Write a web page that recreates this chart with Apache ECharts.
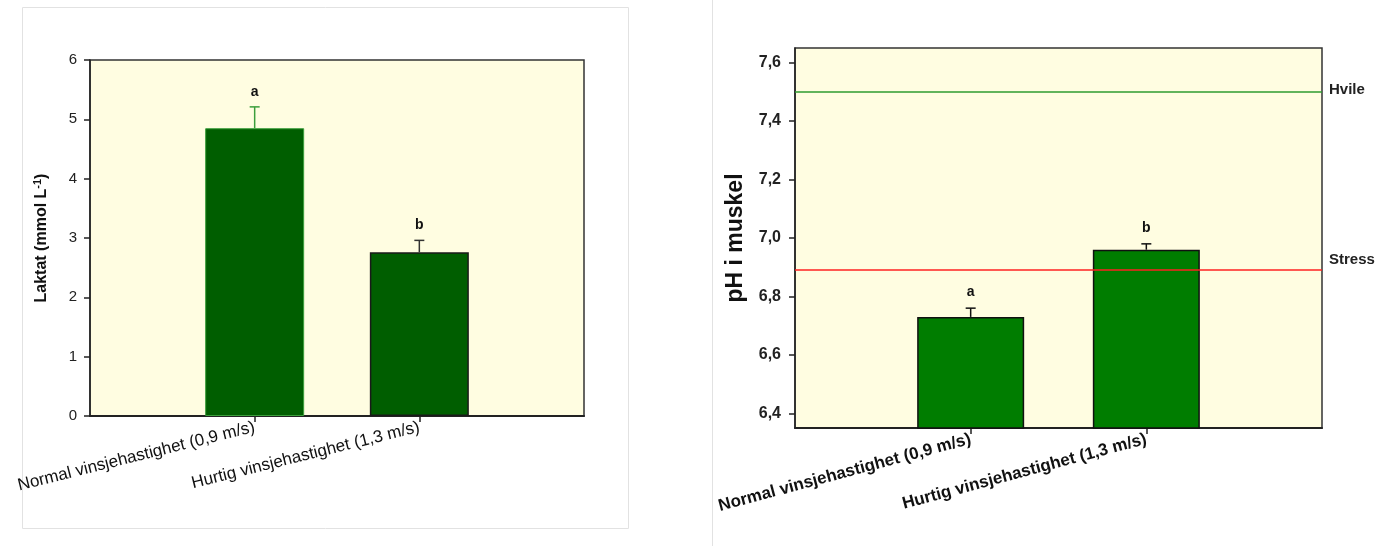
<!DOCTYPE html>
<html><head><meta charset="utf-8">
<script src="https://cdn.jsdelivr.net/npm/echarts@6/dist/echarts.min.js"></script>
<style>html,body{margin:0;padding:0;background:#fff}#c{width:1394px;height:546px}</style>
</head><body><div id="c"></div>
<script>
// ---- data ----
const categories = ['Normal vinsjehastighet (0,9 m/s)', 'Hurtig vinsjehastighet (1,3 m/s)'];
const laktatMean = [4.85, 2.76];
const laktatUpper = [5.21, 2.96];
const laktatLetters = ['a', 'b'];
const laktatTicks = [0, 1, 2, 3, 4, 5, 6];
const phMean = [6.73, 6.96];
const phUpper = [6.76, 6.98];
const phLetters = ['a', 'b'];
const phTicks = [6.4, 6.6, 6.8, 7.0, 7.2, 7.4, 7.6];
const refNames = ['Hvile', 'Stress'];
const refValues = [7.50, 6.89];

// ---- styles ----
const FONT = '"Liberation Sans", Arial, sans-serif';
const laktatBarStyles = [
  {color: '#005E00', borderColor: '#3C9E3C', borderWidth: 1},
  {color: '#005E00', borderColor: '#1a1a1a', borderWidth: 1.5}
];
const laktatErrColors = ['#3C9E3C', '#333'];
const phBarStyle = {color: '#007D00', borderColor: '#111', borderWidth: 1.5};
const phErrColors = ['#111', '#111'];
const refColors = ['#2E9B2E', '#FF2020'];

const padded = [''].concat(categories, ['']);
const notEmpty = (i, v) => v !== '';

function errRender(letters, colors, gap) {
  return function (params, api) {
    const i = params.dataIndex;
    const top = api.coord([api.value(0), api.value(1)]);
    const base = api.coord([api.value(0), api.value(2)]);
    const c = colors[i];
    const hw = 5;
    return {type: 'group', children: [
      {type: 'line', shape: {x1: top[0], y1: top[1], x2: base[0], y2: base[1]}, style: {stroke: c, lineWidth: 1.5}},
      {type: 'line', shape: {x1: top[0] - hw, y1: top[1], x2: top[0] + hw, y2: top[1]}, style: {stroke: c, lineWidth: 1.5}},
      {type: 'text', x: top[0], y: top[1] - gap, style: {text: letters[i], fill: '#111', font: 'bold 14px ' + FONT, align: 'center', verticalAlign: 'middle'}}
    ]};
  };
}

function xAxisFor(gi, labelStyle) {
  return {
    type: 'category', gridIndex: gi, data: padded, boundaryGap: false,
    axisLine: {lineStyle: {color: '#222', width: 2}},
    axisTick: {interval: notEmpty, length: 6, lineStyle: {color: '#222', width: 1.5}},
    axisLabel: Object.assign({interval: notEmpty, color: '#111', fontFamily: FONT}, labelStyle),
    splitLine: {show: false}
  };
}

const chart = echarts.init(document.getElementById('c'), null, {renderer: 'canvas'});
chart.setOption({
  animation: false,
  backgroundColor: '#fff',
  graphic: [
    {type: 'rect', shape: {x: 22.5, y: 7.5, width: 606, height: 521}, style: {fill: 'none', stroke: '#e2e2e2', lineWidth: 1}, z: -10},
    {type: 'line', shape: {x1: 712.5, y1: 0, x2: 712.5, y2: 546}, style: {stroke: '#e2e2e2', lineWidth: 1}, z: -10}
  ],
  grid: [
    {left: 90, top: 60, width: 494, height: 356, show: true, backgroundColor: '#FFFDE1', borderColor: '#333', borderWidth: 1.5},
    {left: 795, top: 48, width: 527, height: 380, show: true, backgroundColor: '#FFFDE1', borderColor: '#333', borderWidth: 1.5}
  ],
  xAxis: [
    xAxisFor(0, {rotate: 14, fontSize: 17, margin: 11}),
    xAxisFor(1, {rotate: 15, fontSize: 17, fontWeight: 'bold', margin: 11})
  ],
  yAxis: [
    {
      type: 'value', gridIndex: 0, min: 0, max: 6, interval: 1,
      name: '{t|Laktat (mmol L}{s|-1}{t|)}', nameLocation: 'middle', nameRotate: 90, nameGap: 39,
      nameTextStyle: {rich: {
        t: {fontSize: 16, fontWeight: 'bold', color: '#111', fontFamily: FONT},
        s: {fontSize: 11, fontWeight: 'bold', color: '#111', fontFamily: FONT, verticalAlign: 'top', padding: [0, 0, 8, 0]}
      }},
      axisLine: {show: true, lineStyle: {color: '#222', width: 1.5}},
      axisTick: {show: true, length: 6, lineStyle: {color: '#222', width: 1.5}},
      axisLabel: {fontSize: 15, color: '#222', fontFamily: FONT, margin: 13, customValues: laktatTicks},
      splitLine: {show: false}
    },
    {
      type: 'value', gridIndex: 1, min: 6.35, max: 7.65,
      name: 'pH i muskel', nameLocation: 'middle', nameRotate: 90, nameGap: 48,
      nameTextStyle: {fontSize: 23, fontWeight: 'bold', color: '#111', fontFamily: FONT},
      axisLine: {show: true, lineStyle: {color: '#222', width: 1.5}},
      axisTick: {show: true, length: 6, customValues: phTicks, lineStyle: {color: '#222', width: 1.5}},
      axisLabel: {fontSize: 16, fontWeight: 'bold', color: '#222', fontFamily: FONT, margin: 14,
        customValues: phTicks, formatter: v => v.toFixed(1).replace('.', ',')},
      splitLine: {show: false}
    }
  ],
  series: [
    {
      type: 'bar', xAxisIndex: 0, yAxisIndex: 0, barWidth: 99,
      data: ['-'].concat(laktatMean.map((v, i) => ({value: v, itemStyle: laktatBarStyles[i]})), ['-'])
    },
    {
      type: 'custom', xAxisIndex: 0, yAxisIndex: 0, z: 5,
      renderItem: errRender(laktatLetters, laktatErrColors, 15),
      encode: {x: 0, y: 1},
      data: laktatUpper.map((u, i) => [categories[i], u, laktatMean[i]])
    },
    {
      type: 'bar', xAxisIndex: 1, yAxisIndex: 1, barWidth: 107, itemStyle: phBarStyle,
      data: ['-'].concat(phMean, ['-']),
      markLine: {
        silent: true, symbol: 'none', animation: false,
        data: refNames.map((n, i) => ({
          yAxis: refValues[i], name: n,
          lineStyle: {color: refColors[i], width: 1.5, type: 'solid'},
          label: {show: true, position: 'end', formatter: n, fontSize: 15, fontWeight: 'bold', color: '#222',
            fontFamily: FONT, distance: 7, offset: i === 0 ? [0, -2] : [0, -10]}
        }))
      }
    },
    {
      type: 'custom', xAxisIndex: 1, yAxisIndex: 1, z: 5,
      renderItem: errRender(phLetters, phErrColors, 16),
      encode: {x: 0, y: 1},
      data: phUpper.map((u, i) => [categories[i], u, phMean[i]])
    }
  ]
});
</script>
</body></html>
